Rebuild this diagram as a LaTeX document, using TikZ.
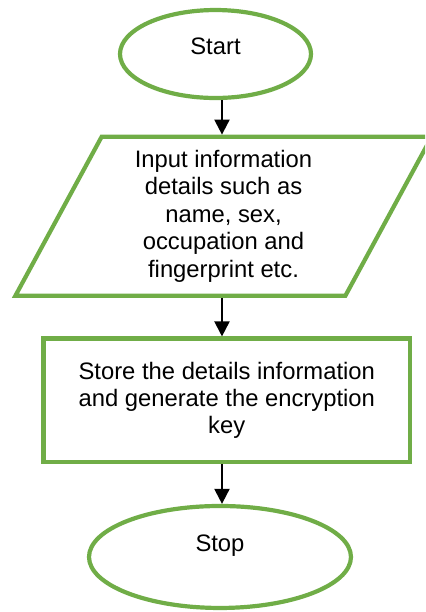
\documentclass[tikz,border=0pt]{standalone}
\usepackage{fontspec}
\setmainfont{Liberation Sans}
\usetikzlibrary{arrows.meta,shapes.geometric,calc}
\definecolor{flowgreen}{HTML}{70AD47}
\tikzset{
  box/.style={draw=flowgreen, line width=2.1pt, align=center, fill=white, font=\fontsize{11.9}{13.7}\selectfont, inner sep=1mm},
  termbox/.style={box, ellipse, text height=1.5ex, text depth=1.5ex},
  iobox/.style={box, trapezium, trapezium left angle=65, trapezium right angle=115, trapezium stretches=true},
  procbox/.style={box, rectangle},
  arrow/.style={-{Triangle[length=7.5pt, width=7.5pt]}, line width=1pt, draw=black}
}

\begin{document}
\begin{tikzpicture}
  \useasboundingbox (0,0) rectangle (7.469,-10.755);
  \clip (0,0) rectangle (7.469,-10.755);
  \coordinate (axis) at (3.901,0);
  \node[termbox, minimum width=3.357cm, minimum height=1.546cm] (start) at (3.787,-0.949) {Start};
  \node[iobox, minimum width=7.33cm, minimum height=2.794cm] (inp) at (3.928,-3.80) {Input information\\details such as\\name, sex,\\occupation and\\fingerprint etc.};
  \node[procbox, minimum width=6.441cm, minimum height=2.170cm] (store) at (3.985,-7.034) {Store the details information\\and generate the encryption\\key};
  \node[termbox, minimum width=4.604cm, minimum height=1.792cm, text depth=1.5ex+5pt] (stop) at (3.866,-9.788) {Stop};
  \draw[arrow] (start.south -| axis) -- (inp.north -| axis);
  \draw[arrow] (inp.south -| axis) -- (store.north -| axis);
  \draw[arrow] (store.south -| axis) -- (stop.north -| axis);
\end{tikzpicture}
\end{document}
